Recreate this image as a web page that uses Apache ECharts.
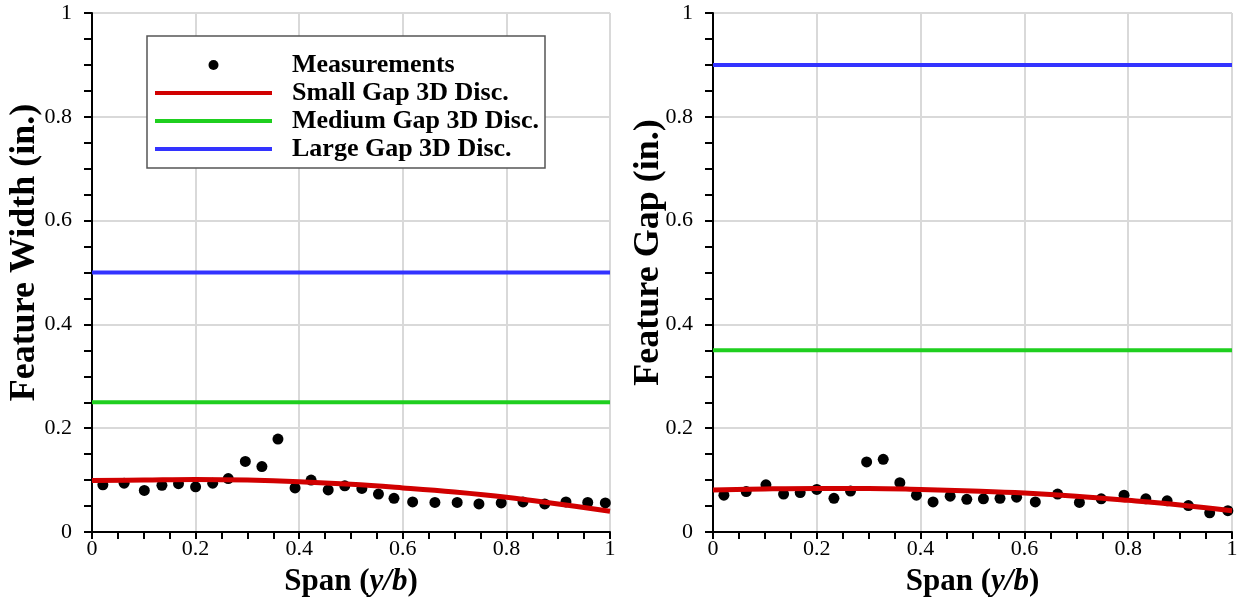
<!DOCTYPE html>
<html>
<head>
<meta charset="utf-8">
<title>Feature Width and Gap along Span</title>
<script src="https://cdn.jsdelivr.net/npm/echarts@6/dist/echarts.min.js"></script>
<style>
  html, body { margin: 0; padding: 0; background: #fff; }
  #chart { width: 1239px; height: 605px; }
</style>
</head>
<body>
<div id="chart"></div>
<script>
// Measured feature width along the span
const widthSpan = [0.021, 0.062, 0.101, 0.135, 0.167, 0.200, 0.233, 0.263, 0.296, 0.328,
                   0.359, 0.392, 0.423, 0.456, 0.488, 0.521, 0.553, 0.583, 0.619, 0.662,
                   0.705, 0.747, 0.790, 0.832, 0.874, 0.915, 0.957, 0.991];
const widthMeas = [0.091, 0.094, 0.080, 0.090, 0.093, 0.087, 0.094, 0.103, 0.136, 0.126,
                   0.179, 0.085, 0.100, 0.081, 0.089, 0.084, 0.073, 0.065, 0.058, 0.057,
                   0.057, 0.054, 0.056, 0.058, 0.054, 0.058, 0.057, 0.056];

// Measured feature gap along the span
const gapSpan = [0.021, 0.064, 0.102, 0.136, 0.168, 0.200, 0.233, 0.265, 0.296, 0.328,
                 0.360, 0.392, 0.424, 0.457, 0.489, 0.521, 0.553, 0.585, 0.621, 0.664,
                 0.706, 0.748, 0.792, 0.834, 0.875, 0.916, 0.957, 0.992];
const gapMeas = [0.071, 0.078, 0.091, 0.073, 0.076, 0.082, 0.065, 0.079, 0.135, 0.140,
                 0.095, 0.071, 0.058, 0.069, 0.063, 0.064, 0.065, 0.067, 0.058, 0.073,
                 0.057, 0.064, 0.071, 0.064, 0.060, 0.051, 0.037, 0.041];

// Small-gap 3D discretization curves, sampled along the span
const curveSpan  = [0, 0.1, 0.2, 0.3, 0.4, 0.5, 0.6, 0.7, 0.8, 0.9, 1.0];
const widthSmall = [0.099, 0.100, 0.101, 0.100, 0.097, 0.092, 0.085, 0.077, 0.067, 0.054, 0.040];
const gapSmall   = [0.081, 0.083, 0.084, 0.084, 0.082, 0.079, 0.075, 0.069, 0.061, 0.052, 0.041];

// Constant medium / large gap discretizations: [width plot, gap plot]
const mediumLevel = [0.25, 0.35];
const largeLevel  = [0.50, 0.90];

const names = ['Measurements', 'Small Gap 3D Disc.', 'Medium Gap 3D Disc.', 'Large Gap 3D Disc.'];
const colors = { meas: '#000000', small: '#d10000', medium: '#1fcf1f', large: '#3333ff' };

const FONT = 'Liberation Serif';

// Legend icons: a centred dot and a thin bar, both fitted to the icon box
const DOT_ICON = 'path://M0,5a5,5 0 1,0 10,0a5,5 0 1,0 -10,0Z';
const BAR_ICON = 'path://M0,0H117V4H0Z';

const zip = (xs, ys) => xs.map((x, i) => [x, ys[i]]);
const flat = v => [[0, v], [1, v]];

function xAxisFor(gridIndex) {
  return {
    gridIndex, type: 'value', min: 0, max: 1, interval: 0.2,
    name: 'Span ({i|y/b})', nameLocation: 'middle', nameGap: 34, nameMoveOverlap: false,
    nameTextStyle: {
      fontFamily: FONT, fontSize: 31, fontWeight: 'bold', color: '#000',
      rich: { i: { fontFamily: FONT, fontSize: 31, fontWeight: 'bold', fontStyle: 'italic', color: '#000' } }
    },
    axisLine: { show: true, onZero: false, lineStyle: { color: '#000', width: 2 } },
    axisTick: { show: true, inside: false, length: 7, lineStyle: { color: '#000', width: 2 } },
    minorTick: { show: true, splitNumber: 4, length: 7, lineStyle: { color: '#000', width: 2 } },
    axisLabel: { fontFamily: FONT, fontSize: 22, color: '#000', margin: 6 },
    splitLine: { show: true, lineStyle: { color: '#d9d9d9', width: 2 } }
  };
}

function yAxisFor(gridIndex, title, gap) {
  return {
    gridIndex, type: 'value', min: 0, max: 1, interval: 0.2,
    name: title, nameLocation: 'middle', nameGap: gap, nameRotate: 90, nameMoveOverlap: false,
    nameTextStyle: { fontFamily: FONT, fontSize: 36, fontWeight: 'bold', color: '#000',
                     padding: [0, 0, 0, 40] },
    axisLine: { show: true, onZero: false, lineStyle: { color: '#000', width: 2 } },
    axisTick: { show: true, inside: false, length: 8, lineStyle: { color: '#000', width: 2 } },
    minorTick: { show: true, splitNumber: 4, length: 8, lineStyle: { color: '#000', width: 2 } },
    axisLabel: { fontFamily: FONT, fontSize: 22, color: '#000', margin: 20 },
    splitLine: { show: true, lineStyle: { color: '#d9d9d9', width: 2 } }
  };
}

function seriesFor(idx, span, meas, small) {
  return [
    { name: names[0], type: 'scatter', xAxisIndex: idx, yAxisIndex: idx,
      data: zip(span, meas), symbol: 'circle', symbolSize: 11,
      itemStyle: { color: colors.meas, opacity: 1 }, z: 2 },
    { name: names[1], type: 'line', xAxisIndex: idx, yAxisIndex: idx,
      data: zip(curveSpan, small), smooth: 0.4, showSymbol: false,
      lineStyle: { color: colors.small, width: 5 }, itemStyle: { color: colors.small }, z: 3 },
    { name: names[2], type: 'line', xAxisIndex: idx, yAxisIndex: idx,
      data: flat(mediumLevel[idx]), showSymbol: false,
      lineStyle: { color: colors.medium, width: 4 }, itemStyle: { color: colors.medium }, z: 3 },
    { name: names[3], type: 'line', xAxisIndex: idx, yAxisIndex: idx,
      data: flat(largeLevel[idx]), showSymbol: false,
      lineStyle: { color: colors.large, width: 4 }, itemStyle: { color: colors.large }, z: 3 }
  ];
}

const option = {
  animation: false,
  backgroundColor: '#fff',
  grid: [
    { left: 92, top: 13, width: 518, height: 519, outerBoundsMode: 'none' },
    { left: 713, top: 13, width: 519, height: 519, outerBoundsMode: 'none' }
  ],
  xAxis: [xAxisFor(0), xAxisFor(1)],
  yAxis: [yAxisFor(0, 'Feature Width (in.)', 49), yAxisFor(1, 'Feature Gap (in.)', 46)],
  graphic: [{
    type: 'rect', z: 3, silent: true,
    shape: { x: 147, y: 36, width: 398, height: 132 },
    style: { fill: '#fff', stroke: '#555', lineWidth: 1.5 }
  }],
  legend: {
    data: [
      { name: names[0], icon: DOT_ICON },
      { name: names[1], icon: BAR_ICON },
      { name: names[2], icon: BAR_ICON },
      { name: names[3], icon: BAR_ICON }
    ],
    orient: 'vertical', left: 155, top: 51, padding: 0, itemGap: 0,
    itemWidth: 117, itemHeight: 10, selectedMode: false,
    textStyle: { fontFamily: FONT, fontSize: 26, fontWeight: 'bold', color: '#000',
                 lineHeight: 28, padding: [0, 0, 0, 15] }
  },
  series: [
    ...seriesFor(0, widthSpan, widthMeas, widthSmall),
    ...seriesFor(1, gapSpan, gapMeas, gapSmall)
  ]
};

const chart = echarts.init(document.getElementById('chart'), null, { renderer: 'canvas' });
chart.setOption(option);
</script>
</body>
</html>
